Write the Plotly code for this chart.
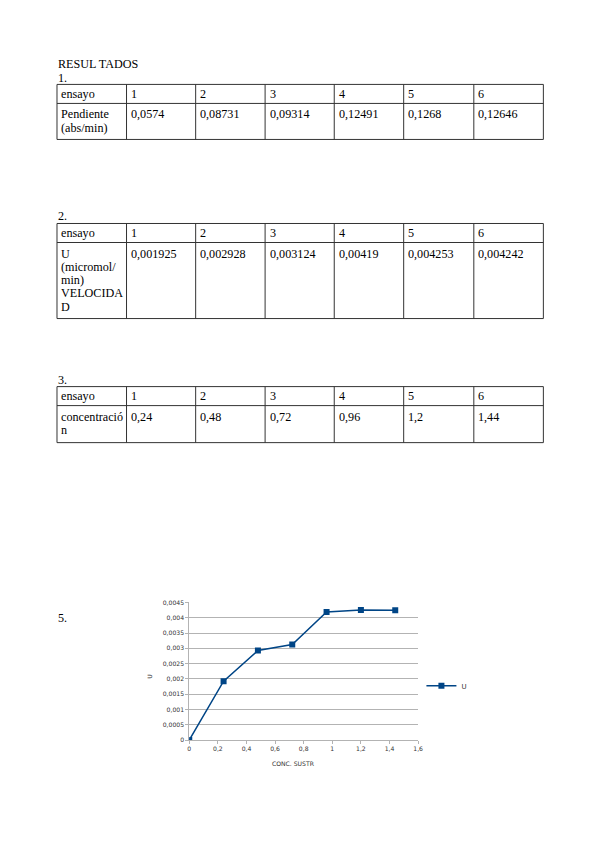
import plotly.graph_objects as go

# la pagina deja 8px de margen en el body, asi que la figura ocupa el resto
PAGE_W, PAGE_H = 599, 848
OFF = 8
W, H = PAGE_W - 2 * OFF, PAGE_H - 2 * OFF
# pequena correccion de escala observada en la captura
SX, FX = 0.986, 180
SY, FY = 0.991, 411

# datos de las tablas
ensayo = ["1", "2", "3", "4", "5", "6"]
pendiente = [0.0574, 0.08731, 0.09314, 0.12491, 0.1268, 0.12646]
velocidad = [0.001925, 0.002928, 0.003124, 0.00419, 0.004253, 0.004242]
concentracion = [0.24, 0.48, 0.72, 0.96, 1.2, 1.44]

# puntos de la grafica (se agrega el origen)
conc_x = [0] + concentracion
vel_y = [0] + velocidad


def px(x):
    x = FX + (x - FX) / SX
    return (x - OFF) / W


def py(y):
    y = FY + (y - FY) / SY
    return 1 - (y - OFF) / H


def fmt(v):
    return str(v).replace(".", ",")


col_x = [57.3, 126.7, 195.7, 265, 334, 403.3, 473.3, 542.7]
text_font = dict(family="Liberation Serif", size=12.15, color="#000000")

# (numero, top, mid, bottom, etiqueta fila 2, valores)
tablas = [
    ("1.", 84, 103, 139, ["Pendiente", "(abs/min)"], [fmt(v) for v in pendiente]),
    ("2.", 223, 242, 318, ["U", "(micromol/", "min)", "VELOCIDA", "D"], [fmt(v) for v in velocidad]),
    ("3.", 386, 405, 442, ["concentració", "n"], [fmt(v) for v in concentracion]),
]

shapes = []
annotations = []


def add_text(x, y, txt, **kw):
    d = dict(x=px(x), y=py(y), xref="paper", yref="paper", text=txt, showarrow=False,
             xanchor="left", yanchor="middle", font=text_font)
    d.update(kw)
    annotations.append(d)


def add_line(x0, y0, x1, y1):
    shapes.append(dict(type="line", xref="paper", yref="paper", x0=px(x0), y0=py(y0),
                       x1=px(x1), y1=py(y1), line=dict(color="#333333", width=1)))


add_text(56, 64, "RESUL TADOS")
add_text(56, 78, "1.")

for num, top, mid, bot, label, vals in tablas:
    if num != "1.":
        add_text(56, top - 7, num)
    for y in (top, mid, bot):
        add_line(col_x[0], y, col_x[-1], y)
    for x in col_x:
        add_line(x, top, x, bot)
    add_text(col_x[0] + 2.5, top + 9.5, "ensayo")
    for i, e in enumerate(ensayo):
        add_text(col_x[i + 1] + 2.5, top + 9.5, e)
    for j, line in enumerate(label):
        add_text(col_x[0] + 2.5, mid + 11 + j * 13.3, line)
    for i, v in enumerate(vals):
        add_text(col_x[i + 1] + 2.5, mid + 11, v)

add_text(56, 617, "5.")

# titulos de ejes de la grafica
small = dict(family="DejaVu Sans", size=6.1, color="#333333")
add_text(150, 676, "U", font=small, textangle=-90, xanchor="center")
add_text(293, 763, "CONC. SUSTR", font=small, xanchor="center")

fig = go.Figure()
fig.add_trace(go.Scatter(
    x=conc_x, y=vel_y, mode="lines+markers", name="U",
    line=dict(color="#004586", width=1.5),
    marker=dict(symbol="square", size=6, color="#004586"),
))

fig.update_layout(
    width=W, height=H,
    margin=dict(l=0, r=0, t=0, b=0),
    paper_bgcolor="white", plot_bgcolor="white",
    separators=",.",
    shapes=shapes, annotations=annotations,
    showlegend=True,
    legend=dict(x=px(421), y=py(685), xanchor="left", yanchor="middle",
                font=dict(family="DejaVu Sans", size=7, color="#333333"),
                bgcolor="rgba(0,0,0,0)", itemwidth=30),
    xaxis=dict(domain=[px(189.3), px(417.7)], range=[0, 1.6], dtick=0.2,
               showgrid=False, zeroline=False, showline=True, linecolor="#b3b3b3",
               ticks="outside", ticklen=3, tickcolor="#b3b3b3",
               tickfont=small),
    yaxis=dict(domain=[py(739.3), py(601.7)], range=[0, 0.0045], dtick=0.0005,
               showgrid=True, gridcolor="#b3b3b3", zeroline=False,
               showline=True, linecolor="#b3b3b3",
               ticks="outside", ticklen=3, tickcolor="#b3b3b3",
               tickfont=small),
)

fig.write_html("out.html")
